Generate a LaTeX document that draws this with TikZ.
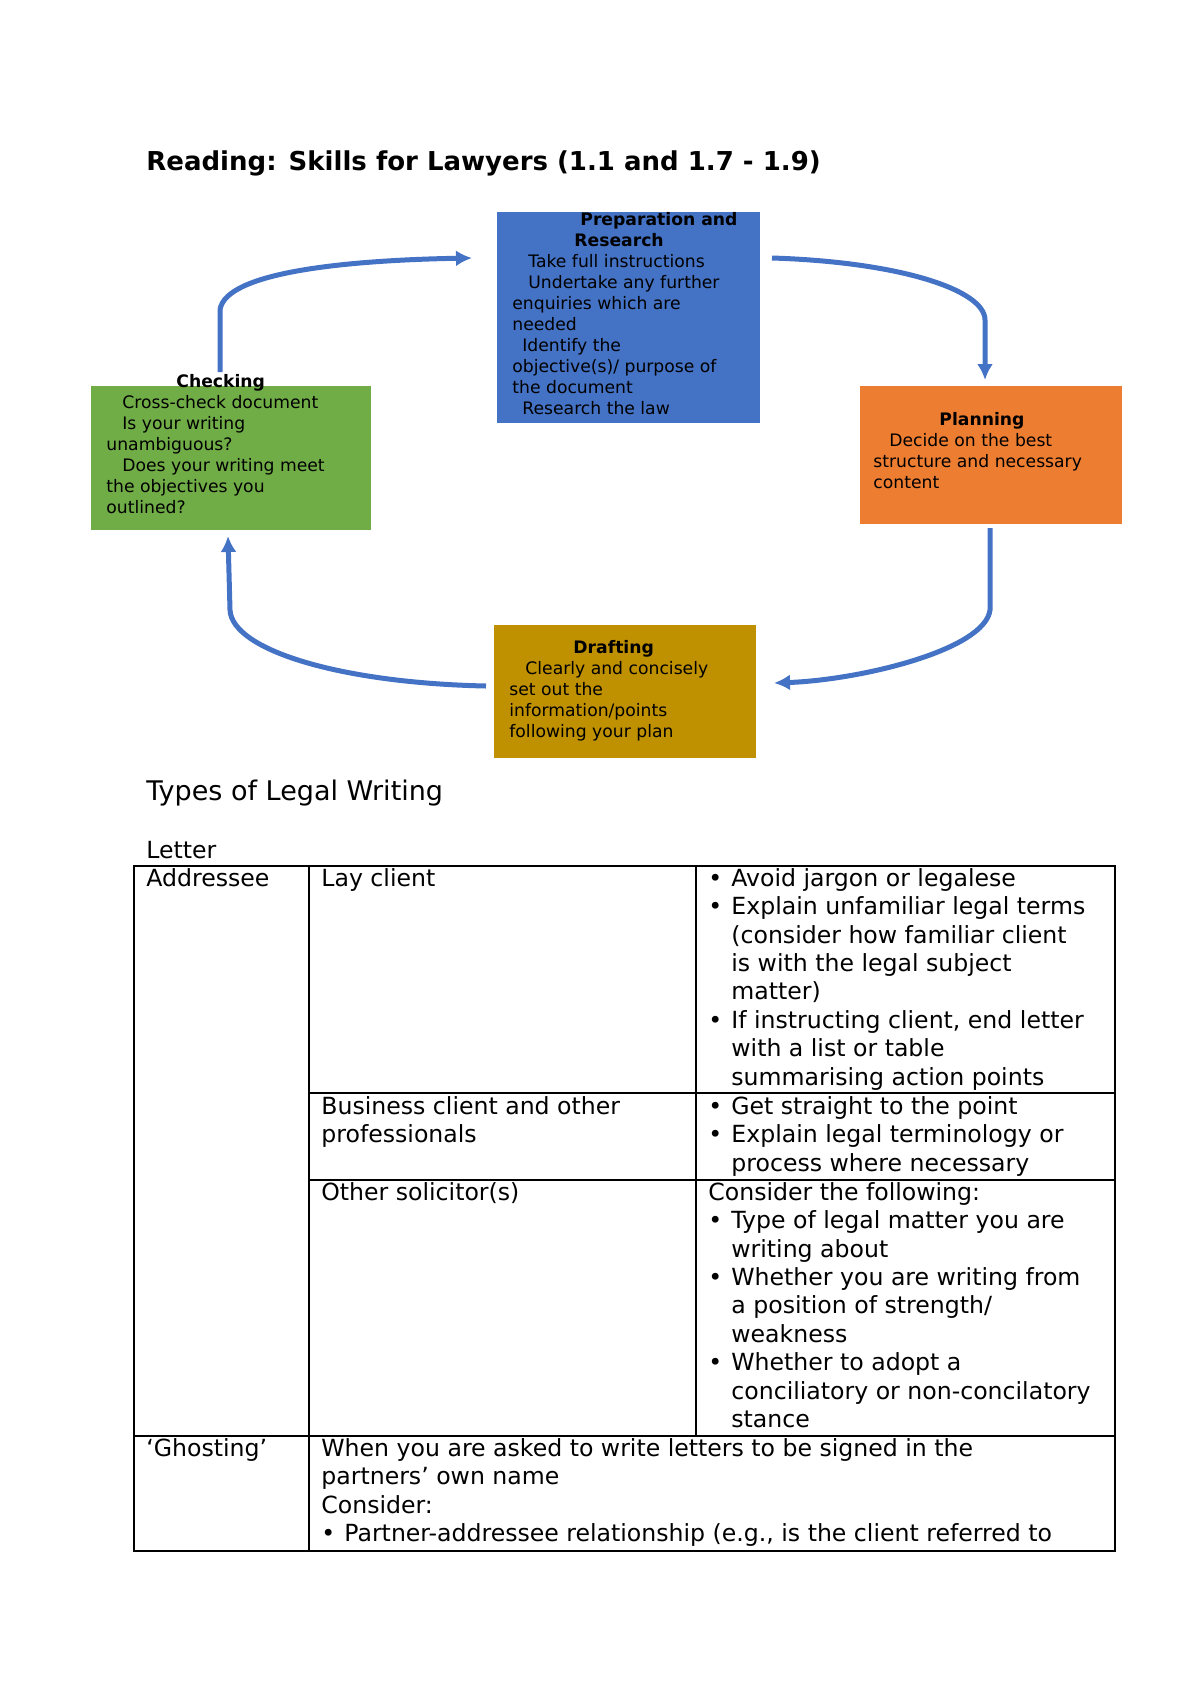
\documentclass[tikz,border=0pt]{standalone}
\usepackage{fontspec}
\setmainfont{DejaVu Sans}
\usetikzlibrary{arrows.meta}
\definecolor{prepblue}{HTML}{4472C4}
\definecolor{planorange}{HTML}{ED7D31}
\definecolor{checkgreen}{HTML}{70AD47}
\definecolor{draftgold}{HTML}{BF9000}
\newcommand{\bl}{\makebox[11.5pt][l]{\textbullet}}
\newcommand{\ind}{\hspace*{11.5pt}}
\begin{document}
\begin{tikzpicture}[x=0.5pt,y=-0.5pt,
  stage/.style={draw=none,inner sep=0pt},
  boxtext/.style={font=\fontsize{8.6}{10.5}\selectfont,align=left,anchor=north west,inner sep=0pt},
  cycle/.style={draw=prepblue,line width=2.5pt,-{Latex[length=8pt,width=8pt]}},
  cell/.style={font=\fontsize{11.8}{14.2}\selectfont,align=left,anchor=north west,inner sep=0pt}]
  \useasboundingbox (0,0) rectangle (1200,1698);
  % title
  \node[anchor=west,inner sep=0pt,font=\fontsize{13}{15}\selectfont\bfseries] (title) at (146,163) {Reading: Skills for Lawyers (1.1 and 1.7 - 1.9)};
  % stage boxes
  \fill[prepblue] (497,212) rectangle (760,423);
  \fill[planorange] (860,386) rectangle (1122,524);
  \fill[checkgreen] (91,386) rectangle (371,530);
  \fill[draftgold] (494,625) rectangle (756,758);
  \coordinate (prep) at (628,212);
  \node[boxtext] (preptxt) at (512,212) {\hspace*{34pt}\textbf{Preparation and}\\\hspace*{31pt}\textbf{Research}\\
    \hspace*{8pt}Take full instructions\\\hspace*{8pt}Undertake any further\\enquiries which are\\needed\\
    \hspace*{5pt}Identify the\\objective(s)/ purpose of\\the document\\\hspace*{5pt}Research the law};
  \node[boxtext] (plantxt) at (873,412) {\hspace*{33pt}\textbf{Planning}\\\hspace*{8pt}Decide on the best\\structure and necessary\\content};
  \node[boxtext] (checktxt) at (106,374) {\hspace*{35pt}\textbf{Checking}\\\hspace*{8pt}Cross-check document\\\hspace*{8pt}Is your writing\\unambiguous?\\
    \hspace*{8pt}Does your writing meet\\the objectives you\\outlined?};
  \node[boxtext] (drafttxt) at (509,640) {\hspace*{32pt}\textbf{Drafting}\\\hspace*{8pt}Clearly and concisely\\set out the\\information/points\\following your plan};
  % cycle arrows
  \coordinate (c1) at (220,372); \coordinate (c2) at (472,258);
  \coordinate (c3) at (772,258); \coordinate (c4) at (985,380);
  \coordinate (c5) at (990,528); \coordinate (c6) at (774,683);
  \coordinate (c7) at (486,686); \coordinate (c8) at (228,536);
  \draw[cycle] (c1) -- (220,310) .. controls (225,270) and (360,260) .. (c2);
  \draw[cycle] (c3) .. controls (900,262) and (985,290) .. (985,320) -- (c4);
  \draw[cycle] (c5) -- (990,610) .. controls (985,650) and (860,680) .. (c6);
  \draw[cycle] (c7) .. controls (340,683) and (232,650) .. (230,610) -- (c8);
  % table
  \node[anchor=west,inner sep=0pt,font=\fontsize{13.5}{16}\selectfont] (types) at (146,793) {Types of Legal Writing};
  \node[anchor=west,inner sep=0pt,font=\fontsize{11.8}{14}\selectfont] (letter) at (146,850) {Letter};
  \draw[line width=1pt] (134,866) rectangle (1115,1551);
  \draw[line width=1pt] (309,866) -- (309,1551);
  \draw[line width=1pt] (696,866) -- (696,1436);
  \draw[line width=1pt] (309,1093) -- (1115,1093);
  \draw[line width=1pt] (309,1180) -- (1115,1180);
  \draw[line width=1pt] (134,1436) -- (1115,1436);
  \node[cell] (addr) at (146,868) {Addressee};
  \node[cell] (lay) at (321,868) {Lay client};
  \node[cell] (layadv) at (708,868) {\bl Avoid jargon or legalese\\\bl Explain unfamiliar legal terms\\
    \ind(consider how familiar client\\\ind is with the legal subject\\\ind matter)\\
    \bl If instructing client, end letter\\\ind with a list or table\\\ind summarising action points};
  \node[cell] (bus) at (321,1096) {Business client and other\\professionals};
  \node[cell] (busadv) at (708,1096) {\bl Get straight to the point\\\bl Explain legal terminology or\\\ind process where necessary};
  \node[cell] (sol) at (321,1182) {Other solicitor(s)};
  \node[cell] (soladv) at (708,1182) {Consider the following:\\\bl Type of legal matter you are\\\ind writing about\\
    \bl Whether you are writing from\\\ind a position of strength/\\\ind weakness\\
    \bl Whether to adopt a\\\ind conciliatory or non-concilatory\\\ind stance};
  \node[cell] (ghost) at (146,1438) {‘Ghosting’};
  \node[cell] (ghostdef) at (321,1438) {When you are asked to write letters to be signed in the\\partners’ own name\\Consider:\\
    \bl Partner-addressee relationship (e.g., is the client referred to};
\end{tikzpicture}
\end{document}
